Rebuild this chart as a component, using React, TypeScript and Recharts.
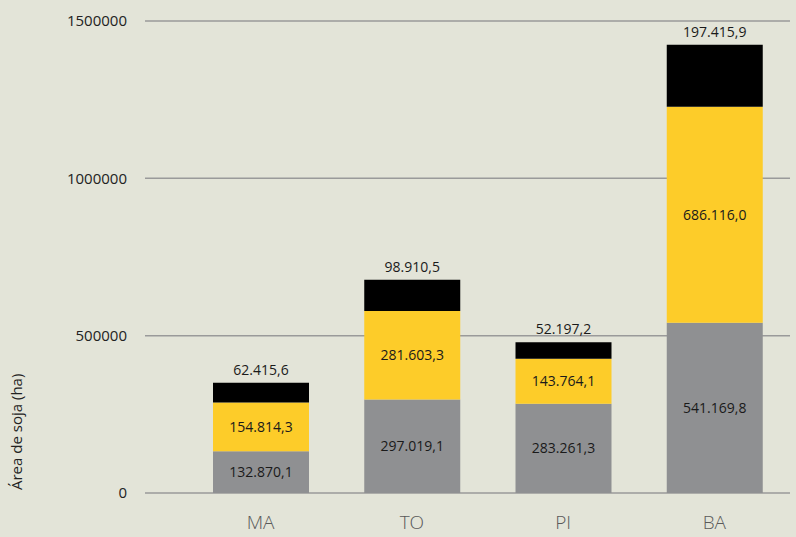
import React from "react";
import { BarChart, Bar, XAxis, YAxis, CartesianGrid, LabelList } from "recharts";

const states = ["MA", "TO", "PI", "BA"];
const greyValues = [132870.1, 297019.1, 283261.3, 541169.8];
const yellowValues = [154814.3, 281603.3, 143764.1, 686116.0];
const blackValues = [62415.6, 98910.5, 52197.2, 197415.9];
const yTicks = [0, 500000, 1000000, 1500000];

const data = states.map((s, i) => ({
  state: s,
  grey: greyValues[i],
  yellow: yellowValues[i],
  black: blackValues[i],
}));

const fmt = (v: number) => {
  const [intPart, dec] = Number(v).toFixed(1).split(".");
  const withDots = intPart.replace(/\B(?=(\d{3})+(?!\d))/g, ".");
  return `${withDots},${dec}`;
};

const FONT = "'Open Sans', Lato, sans-serif";
const BG = "#e3e4d8";

const XTick = (props: any) => {
  const { x, y, payload } = props;
  return (
    <text x={x} y={y + 28} textAnchor="middle" fontFamily={FONT} fontSize={19} fill="#5a5a5a" fontWeight={300}>
      {payload.value}
    </text>
  );
};

const YLabel = (props: any) => {
  const vb = props.viewBox || {};
  const x = 22;
  const y = (vb.y || 0) + (vb.height || 0) - 3;
  return (
    <text x={x} y={y} transform={`rotate(-90, ${x}, ${y})`} textAnchor="start" fontFamily={FONT} fontSize={15} fill="#222">
      Área de soja (ha)
    </text>
  );
};

export default function App() {
  return (
    <div style={{ position: "absolute", left: 0, top: 0, width: 796, height: 537, background: BG }}>
      <BarChart
        width={796}
        height={537}
        data={data}
        margin={{ top: 21, right: 6, bottom: 0, left: 0 }}
        barCategoryGap={0}
      >
        <CartesianGrid vertical={false} stroke="#9a9a9a" strokeWidth={1.5} />
        <XAxis
          dataKey="state"
          axisLine={false}
          tickLine={false}
          height={44}
          tick={<XTick />}
          padding={{ left: 40, right: 0 }}
        />
        <YAxis
          domain={[0, 1500000]}
          ticks={yTicks}
          width={145}
          axisLine={false}
          tickLine={false}
          tickMargin={12}
          tick={{ fontFamily: FONT, fontSize: 15, fill: "#222" }}
          label={<YLabel />}
        />
        <Bar dataKey="grey" stackId="a" fill="#8f9092" barSize={96} isAnimationActive={false}>
          <LabelList dataKey="grey" position="center" formatter={(v: any) => fmt(v)} style={{ fontFamily: FONT, fontSize: 14, fill: "#1a1a1a" }} />
        </Bar>
        <Bar dataKey="yellow" stackId="a" fill="#fdcc29" barSize={96} isAnimationActive={false}>
          <LabelList dataKey="yellow" position="center" formatter={(v: any) => fmt(v)} style={{ fontFamily: FONT, fontSize: 14, fill: "#1a1a1a" }} />
        </Bar>
        <Bar dataKey="black" stackId="a" fill="#000000" barSize={96} isAnimationActive={false}>
          <LabelList dataKey="black" position="top" offset={8} formatter={(v: any) => fmt(v)} style={{ fontFamily: FONT, fontSize: 14, fill: "#1a1a1a" }} />
        </Bar>
      </BarChart>
    </div>
  );
}
